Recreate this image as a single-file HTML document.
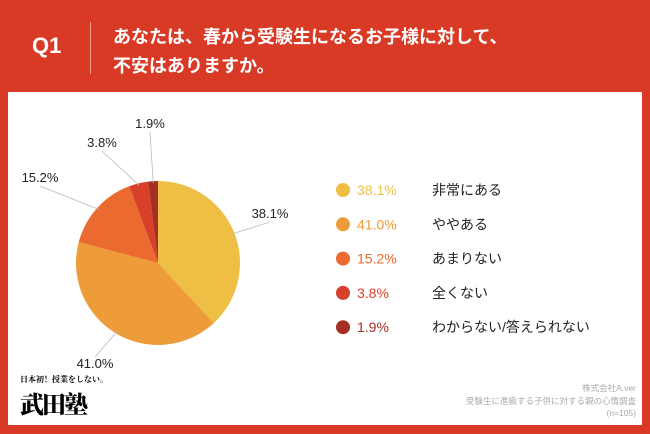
<!DOCTYPE html>
<html><head><meta charset="utf-8"><style>
body{margin:0;width:650px;height:434px;background:#d93a26;font-family:"Liberation Sans","Noto Sans CJK JP",sans-serif;position:relative;overflow:hidden}
.a{position:absolute}
</style></head><body>
<div class="a" style="left:32px;top:33px;color:#fff;font-size:22px;font-weight:bold">Q1</div>
<div class="a" style="left:90px;top:22px;width:1px;height:52px;background:#f0a090"></div>
<div class="a" style="left:113px;top:23px;color:#fff;font-size:18px;font-weight:bold;line-height:29px">あなたは、春から受験生になるお子様に対して、<br>不安はありますか。</div>
<div class="a" style="left:8px;top:92px;width:634px;height:333px;background:#fff"></div>
<svg class="a" style="left:0;top:0" width="650" height="434" id="svg"></svg>
<div class="a" style="left:20px;top:374px;font-size:8px;font-family:'Noto Serif CJK SC',serif;font-weight:bold">日本初！授業をしない。</div>
<div class="a" style="left:20px;top:385px;font-size:24px;font-weight:900;font-family:'Noto Serif CJK SC',serif;letter-spacing:-2px">武田塾</div>
<div class="a" style="right:14px;top:382px;font-size:8.5px;color:#aaa;text-align:right;line-height:12.5px">株式会社A.ver<br>受験生に進級する子供に対する親の心情調査<br>(n=105)</div>
<script>
const categories=["非常にある","ややある","あまりない","全くない","わからない/答えられない"];
const values=[38.1,41.0,15.2,3.8,1.9];
const colors=["#eebf44","#ee9b39","#ea6a30","#d8402a","#a52f22"];
const labelPos=[[270,218],[95,368],[40,182],[102,147],[150,128]];
const svg=document.getElementById('svg');const NS="http://www.w3.org/2000/svg";
const cx=158,cy=263,r=82;
const total=values.reduce((a,b)=>a+b,0);
function pt(f,rr){const a=f*2*Math.PI-Math.PI/2;return [cx+rr*Math.cos(a),cy+rr*Math.sin(a)];}
let acc=0;
values.forEach((v,i)=>{
 const f0=acc/total,f1=(acc+v)/total;acc+=v;
 const p0=pt(f0,r),p1=pt(f1,r);
 const p=document.createElementNS(NS,'path');
 p.setAttribute('d',`M${cx},${cy}L${p0[0]},${p0[1]}A${r},${r} 0 ${f1-f0>0.5?1:0} 1 ${p1[0]},${p1[1]}Z`);
 p.setAttribute('fill',colors[i]);
 
 
 svg.appendChild(p);
 const m=pt((f0+f1)/2,r-2),[lx,ly]=labelPos[i];
 const ln=document.createElementNS(NS,'line');
 ln.setAttribute('x1',m[0]);ln.setAttribute('y1',m[1]);ln.setAttribute('x2',lx);ln.setAttribute('y2',ly+ (ly<m[1]?4:-11));
 ln.setAttribute('stroke','#bbb');ln.setAttribute('stroke-width','0.8');
 
 
 svg.appendChild(ln);
 const t=document.createElementNS(NS,'text');
 t.setAttribute('x',lx);t.setAttribute('y',ly);t.setAttribute('text-anchor','middle');t.setAttribute('font-size','13');t.setAttribute('fill','#222');
 t.textContent=values[i].toFixed(1)+'%';
 
 
 svg.appendChild(t);
 const y=190+i*34.3;
 const c=document.createElementNS(NS,'circle');
 c.setAttribute('cx',343);c.setAttribute('cy',y);c.setAttribute('r',7);c.setAttribute('fill',colors[i]);
 
 
 svg.appendChild(c);
 const tp=document.createElementNS(NS,'text');
 tp.setAttribute('x',357);tp.setAttribute('y',y+5);tp.setAttribute('font-size','14');tp.setAttribute('fill',colors[i]);
 tp.textContent=values[i].toFixed(1)+'%';
 
 
 svg.appendChild(tp);
 const tl=document.createElementNS(NS,'text');
 tl.setAttribute('x',432);tl.setAttribute('y',y+5);tl.setAttribute('font-size','14');tl.setAttribute('fill','#222');
 tl.textContent=categories[i];
 
 
 svg.appendChild(tl);
});
</script>
</body></html>
